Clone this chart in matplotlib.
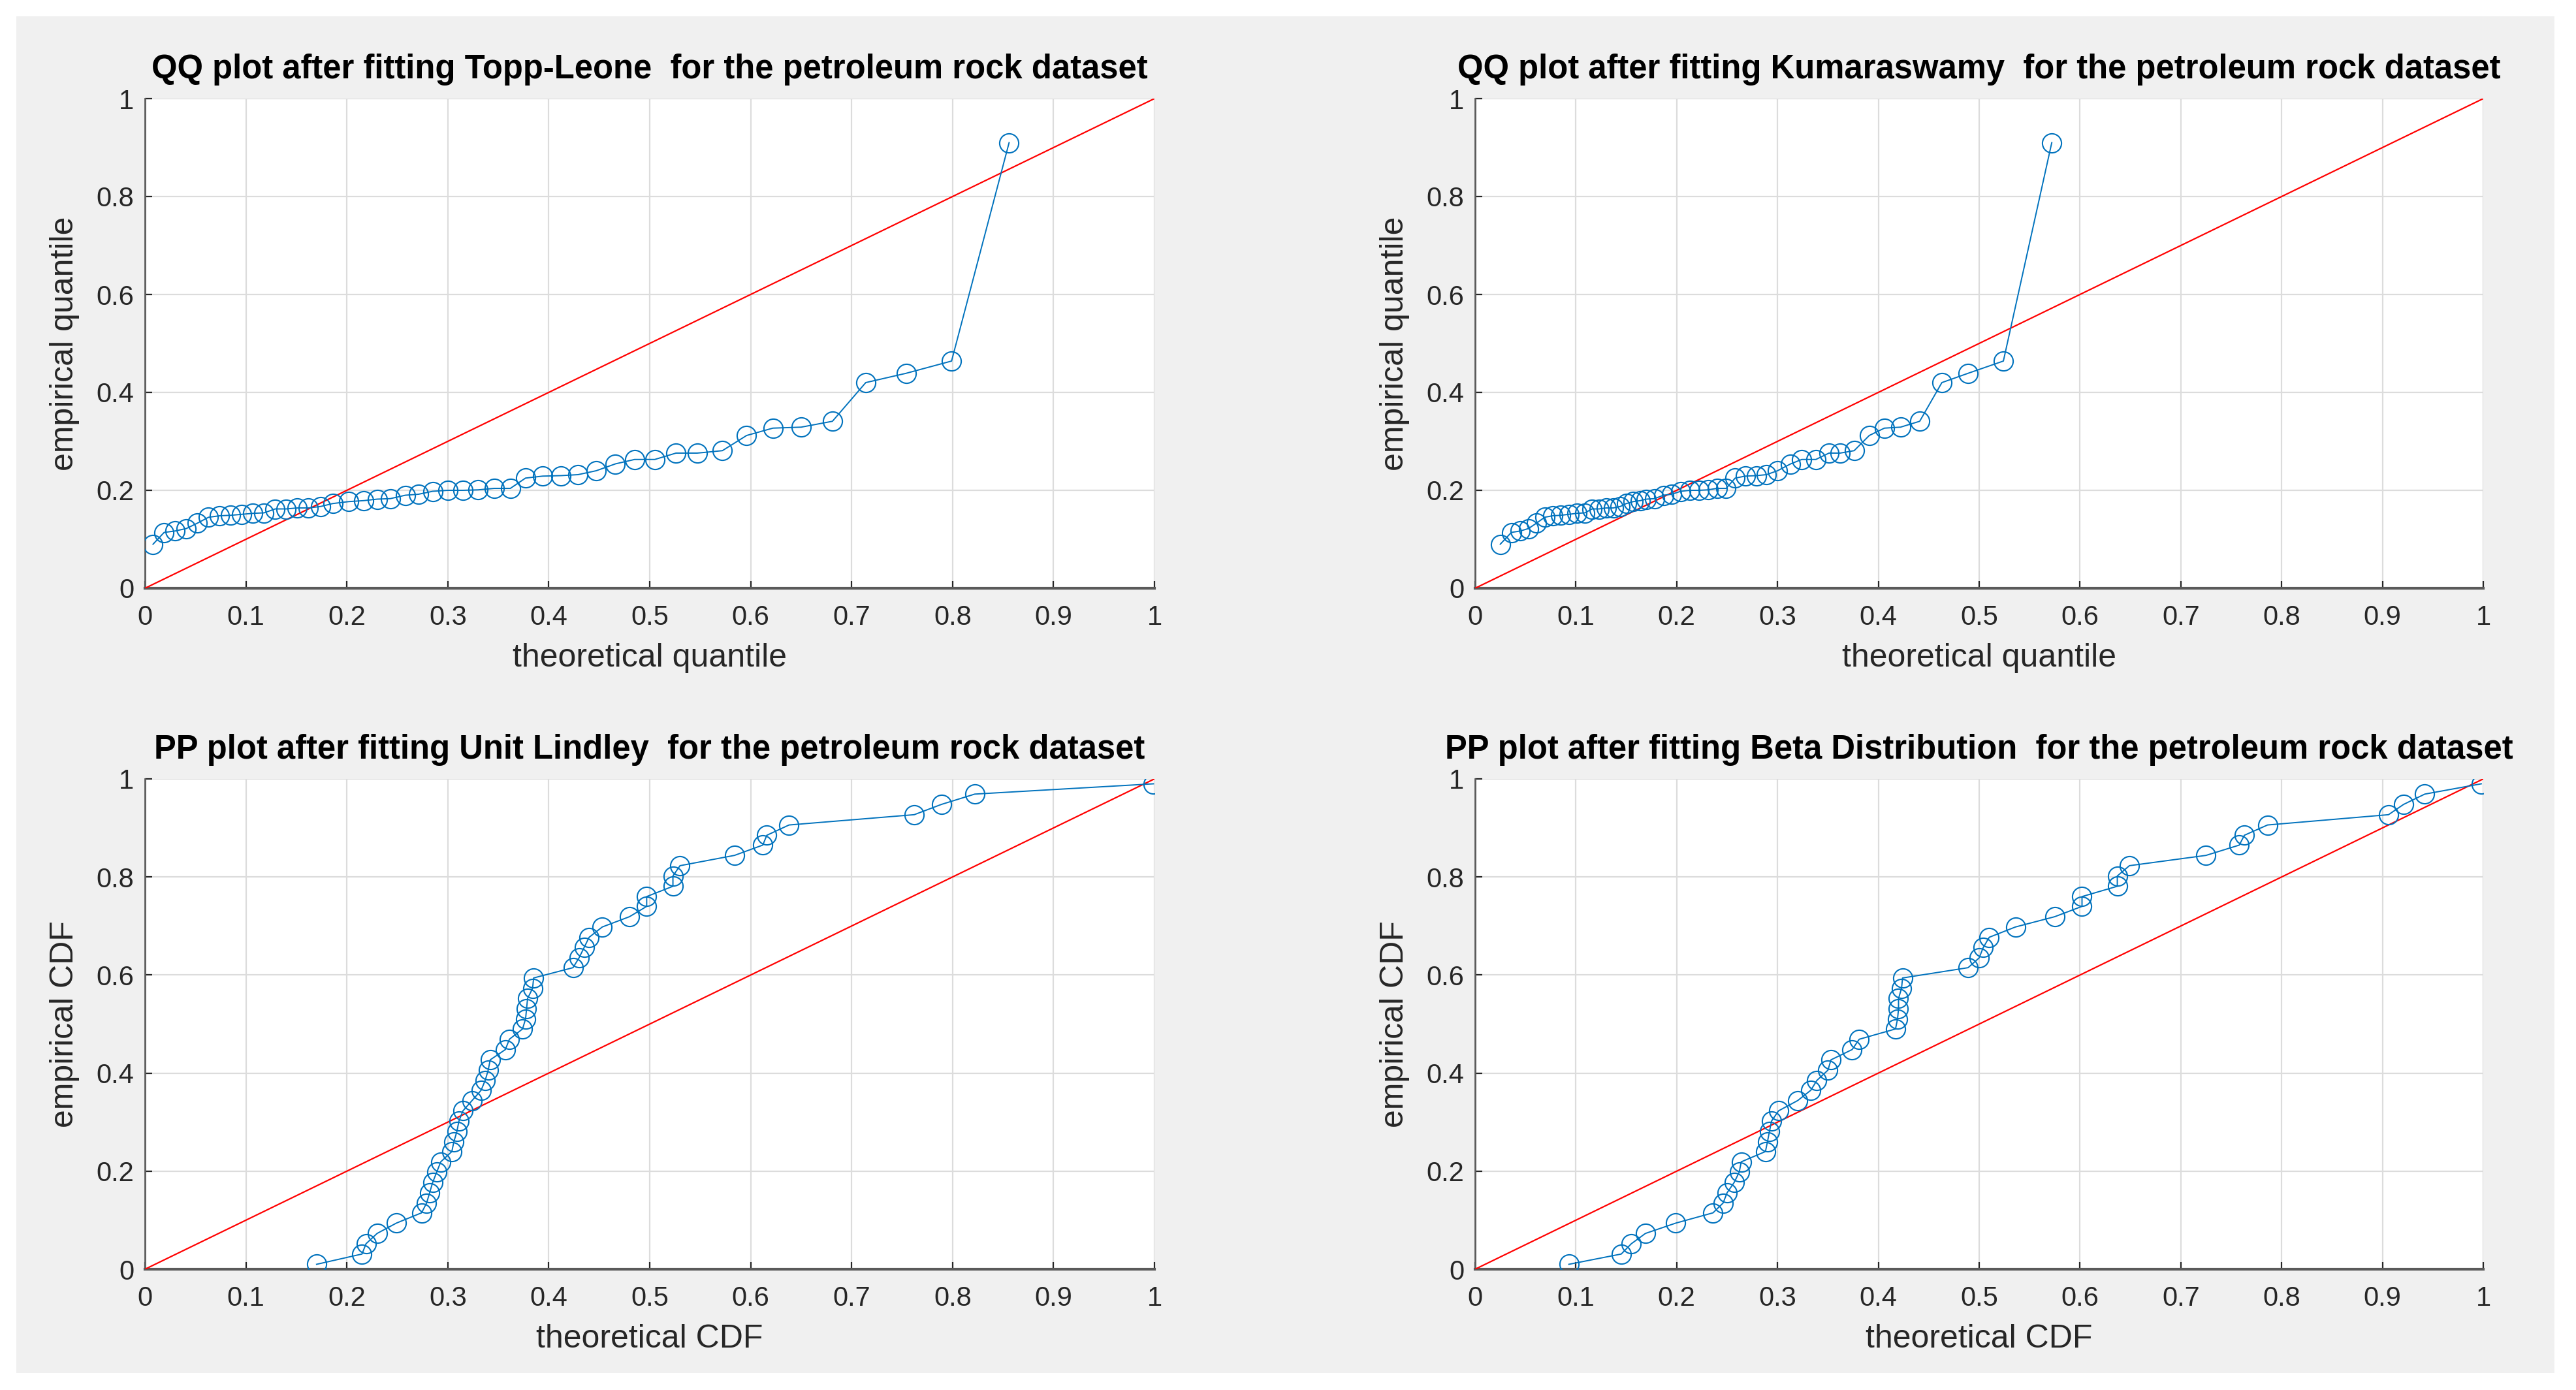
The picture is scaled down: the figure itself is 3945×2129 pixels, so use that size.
import matplotlib

matplotlib.use("Agg")
import matplotlib.pyplot as plt
from matplotlib.patches import Rectangle


# sorted petroleum rock shape values (empirical quantiles)
empirical_quantile = [
    0.090, 0.114, 0.117, 0.122, 0.133, 0.145, 0.148, 0.149, 0.151, 0.153,
    0.154, 0.162, 0.162, 0.164, 0.164, 0.167, 0.173, 0.177, 0.179, 0.182,
    0.183, 0.190, 0.192, 0.198, 0.200, 0.200, 0.201, 0.204, 0.204, 0.225,
    0.229, 0.230, 0.232, 0.240, 0.254, 0.263, 0.263, 0.276, 0.276, 0.281,
    0.312, 0.327, 0.329, 0.341, 0.420, 0.439, 0.464, 0.910,
]

topp_leone_quantile = [
    0.008, 0.019, 0.030, 0.041, 0.052, 0.063, 0.074, 0.085, 0.096, 0.107,
    0.118, 0.129, 0.140, 0.151, 0.162, 0.174, 0.186, 0.202, 0.217, 0.230,
    0.243, 0.258, 0.271, 0.285, 0.300, 0.315, 0.330, 0.346, 0.362, 0.377,
    0.394, 0.412, 0.429, 0.447, 0.466, 0.485, 0.505, 0.526, 0.547, 0.572,
    0.596, 0.622, 0.650, 0.681, 0.714, 0.754, 0.799, 0.856,
]

kumaraswamy_quantile = [
    0.025, 0.036, 0.045, 0.053, 0.061, 0.069, 0.077, 0.085, 0.093, 0.101,
    0.109, 0.116, 0.123, 0.130, 0.137, 0.144, 0.150, 0.157, 0.164, 0.170,
    0.178, 0.187, 0.195, 0.204, 0.213, 0.222, 0.231, 0.240, 0.249, 0.258,
    0.268, 0.279, 0.289, 0.300, 0.313, 0.324, 0.338, 0.351, 0.362, 0.376,
    0.391, 0.406, 0.422, 0.441, 0.463, 0.489, 0.524, 0.572,
]

empirical_cdf = [
    0.010, 0.031, 0.052, 0.073, 0.094, 0.115, 0.135, 0.156, 0.177, 0.198,
    0.219, 0.240, 0.260, 0.281, 0.302, 0.323, 0.344, 0.365, 0.385, 0.406,
    0.427, 0.448, 0.469, 0.490, 0.510, 0.531, 0.552, 0.573, 0.594, 0.615,
    0.635, 0.656, 0.677, 0.698, 0.719, 0.740, 0.760, 0.781, 0.802, 0.823,
    0.844, 0.865, 0.885, 0.906, 0.927, 0.948, 0.969, 0.990,
]

unit_lindley_cdf = [
    0.170, 0.215, 0.219, 0.230, 0.249, 0.274, 0.279, 0.282, 0.285, 0.289,
    0.293, 0.304, 0.306, 0.309, 0.311, 0.315, 0.324, 0.333, 0.337, 0.340,
    0.342, 0.357, 0.361, 0.374, 0.377, 0.378, 0.379, 0.384, 0.385, 0.424,
    0.430, 0.435, 0.440, 0.453, 0.480, 0.497, 0.497, 0.523, 0.523, 0.530,
    0.584, 0.612, 0.616, 0.638, 0.762, 0.789, 0.822, 0.999,
]

beta_cdf = [
    0.093, 0.145, 0.155, 0.169, 0.199, 0.236, 0.246, 0.250, 0.257, 0.262,
    0.264, 0.288, 0.290, 0.292, 0.294, 0.301, 0.320, 0.333, 0.339, 0.350,
    0.353, 0.374, 0.381, 0.417, 0.419, 0.420, 0.420, 0.423, 0.424, 0.489,
    0.500, 0.504, 0.510, 0.536, 0.575, 0.602, 0.602, 0.637, 0.637, 0.649,
    0.725, 0.758, 0.763, 0.786, 0.906, 0.921, 0.942, 0.998,
]

reference_line = [0, 1]
x_ticks = [0, 0.1, 0.2, 0.3, 0.4, 0.5, 0.6, 0.7, 0.8, 0.9, 1]
y_ticks = [0, 0.2, 0.4, 0.6, 0.8, 1]
x_tick_labels = ["0", "0.1", "0.2", "0.3", "0.4", "0.5", "0.6", "0.7", "0.8", "0.9", "1"]
y_tick_labels = ["0", "0.2", "0.4", "0.6", "0.8", "1"]

panels = [
    ("QQ plot after fitting Topp-Leone  for the petroleum rock dataset",
     topp_leone_quantile, empirical_quantile, "theoretical quantile", "empirical quantile"),
    ("QQ plot after fitting Kumaraswamy  for the petroleum rock dataset",
     kumaraswamy_quantile, empirical_quantile, "theoretical quantile", "empirical quantile"),
    ("PP plot after fitting Unit Lindley  for the petroleum rock dataset",
     unit_lindley_cdf, empirical_cdf, "theoretical CDF", "empirical CDF"),
    ("PP plot after fitting Beta Distribution  for the petroleum rock dataset",
     beta_cdf, empirical_cdf, "theoretical CDF", "empirical CDF"),
]

W, H = 3945, 2129
DPI = 100
plt.rcParams["font.family"] = ["Liberation Sans", "DejaVu Sans"]

fig = plt.figure(figsize=(W / DPI, H / DPI), dpi=DPI, facecolor="white")
fig.add_artist(
    Rectangle((25 / W, 1 - 2103 / H), (3912 - 25) / W, (2103 - 25) / H,
              transform=fig.transFigure, facecolor="#f0f0f0", edgecolor="none", zorder=0)
)

# axes boxes in pixels: left, top, right, bottom
boxes = [
    (222, 151, 1768, 901),
    (2259, 151, 3803, 901),
    (222, 1193, 1768, 1944),
    (2259, 1193, 3803, 1944),
]

axis_color = "#5a5a5a"
for (title, xs, ys, xlabel, ylabel), (left, top, right, bottom) in zip(panels, boxes):
    ax = fig.add_axes([left / W, 1 - bottom / H, (right - left) / W, (bottom - top) / H])
    ax.set_facecolor("white")
    ax.plot(reference_line, reference_line, color="#ff0000", linewidth=1.6, zorder=3)
    ax.plot(xs, ys, color="#0072bd", linewidth=1.4, marker="o", markersize=21,
            markerfacecolor="none", markeredgecolor="#0072bd", markeredgewidth=1.5, zorder=4)

    ax.set_xlim(0, 1)
    ax.set_ylim(0, 1)
    ax.set_xticks(x_ticks)
    ax.set_xticklabels(x_tick_labels)
    ax.set_yticks(y_ticks)
    ax.set_yticklabels(y_tick_labels)
    ax.grid(True, color="#dcdcdc", linewidth=1.6, zorder=0)
    ax.set_axisbelow(True)

    for side in ("top", "right"):
        ax.spines[side].set_visible(False)
    for side in ("left", "bottom"):
        ax.spines[side].set_color(axis_color)
    ax.spines["left"].set_linewidth(2.0)
    ax.spines["bottom"].set_linewidth(3.0)

    ax.tick_params(direction="in", length=8, width=1.6, colors="#262626",
                   labelsize=30, top=False, right=False)
    ax.tick_params(axis="x", pad=18)
    ax.tick_params(axis="y", pad=12)
    for tick in ax.get_xticklines() + ax.get_yticklines():
        tick.set_color(axis_color)

    ax.set_title(title, fontsize=36.5, fontweight="bold", color="black", pad=22)
    ax.set_xlabel(xlabel, fontsize=36, color="#262626", labelpad=14)
    ax.set_ylabel(ylabel, fontsize=36, color="#262626", labelpad=18)

fig.savefig("out.png", dpi=DPI, facecolor=fig.get_facecolor())
